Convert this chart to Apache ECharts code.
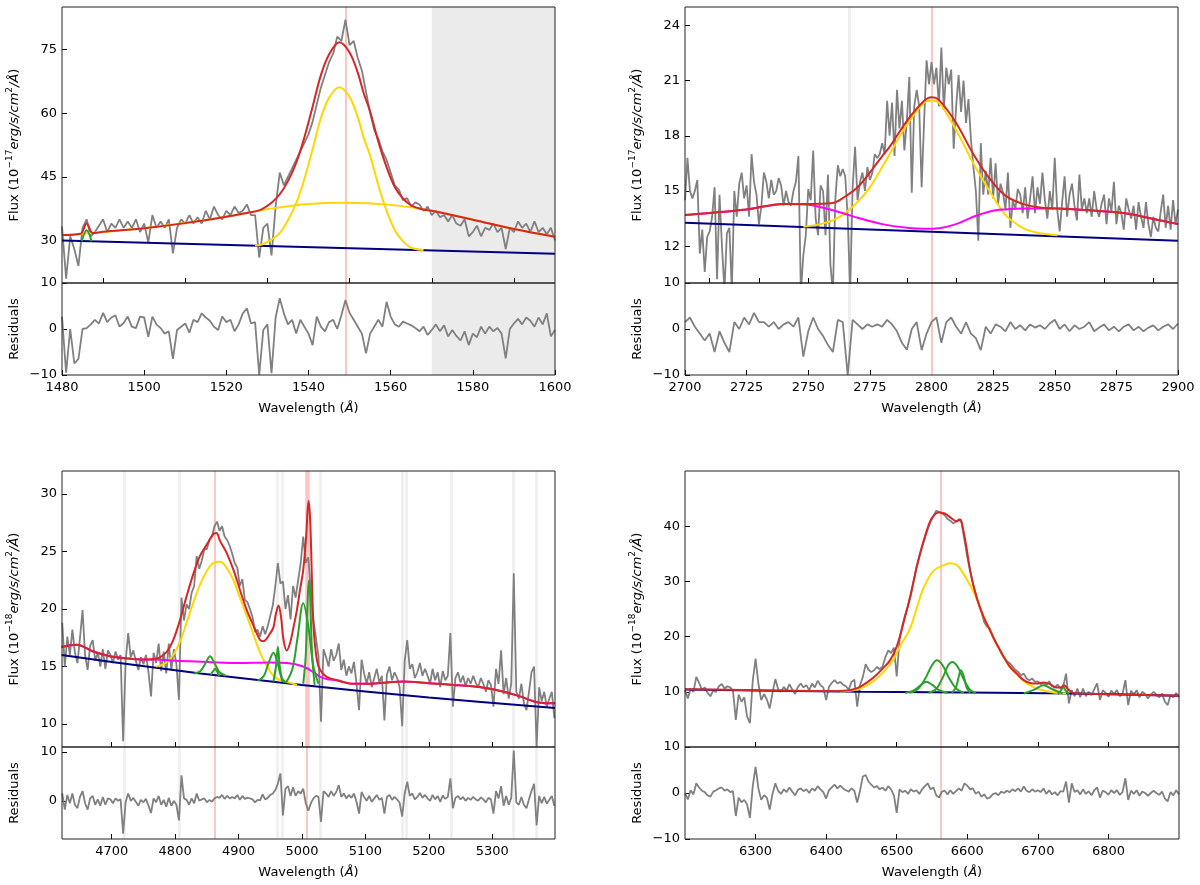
<!DOCTYPE html>
<html>
<head>
<meta charset="utf-8">
<script src="https://cdn.jsdelivr.net/npm/echarts@6/dist/echarts.min.js"></script>
<style>
html,body{margin:0;padding:0;background:#fff;}
#chart{width:1200px;height:885px;}
</style>
</head>
<body>
<div id="chart"></div>
<script>
// ---------------- Panel 1 : C IV (1480-1600 A), 1 A sampling ----------------
const p1Start = 1480, p1Step = 1;
const p1Flux = [
33.3,21,31,28,24,33,35,31,32,33.5,
35,32,34,33,35,33,34.5,33,35,32,
34,29.5,36,33,34.5,33,35,27,33,35,
34,36,34,35.5,34,37,35,38,36,35,
37,36,38,36.5,37,38.5,36,36,26,33,
34,26.5,38,46,43,45,47,49,51,53,
55,58,62,66,69,72,74,78,77,82,
76,77,73,70,65,60,56,54,51,49,
46,43,42,39.5,40,38,39,38.5,37,38,
36,37,35.5,36,34.5,36,34,33.5,35,31,
32,33.5,31,33,32.5,34,32,33,28,33,
32,34.5,33,34,32,34.5,32,33,31.5,33,
30];
const p1Resid = [
2.7,-9.5,0,-7.5,-6.5,0,0.2,1,2,1.2,
3.5,1.5,2.5,3,0.5,1.3,2.7,0.5,0.2,2.7,
2.5,-1.7,2.7,1,0.2,-1,-0.5,-6.5,-0.2,0.5,
1.2,-0.8,2,1.5,3.4,2.5,1.8,0.5,-0.2,2.7,
1.5,2,-0.5,1,3.4,4.5,1.2,1.5,-10,-0.2,
1,-9.6,2.5,6.7,3.4,1,2,-1,2,0.5,
-1,-3.5,2.7,0.5,-0.5,1.5,2,0,3,6.3,
3.5,2,0.5,-1,-5.3,-1,0.5,2,0.5,5.9,
2.7,1,0.5,1.6,1.2,0.8,0.2,-0.5,0.5,-1.3,
-0.2,1,-0.5,0.8,-1.6,-0.2,-1.5,-2.5,-0.5,-3.5,
-1,-1.8,0.5,-1,0.5,-0.5,0.2,-1,-6.4,0,
1.2,2.2,1,2.5,1.8,0.5,2.5,1,3.4,-1.6,
-0.2];
const p1Cont = [[1480,30.0],[1600,26.9]];
const p1BroadCIV = [[1480,31.3],[1500,32.9],[1520,35.6],[1530,37.4],[1540,38.6],[1549,38.9],[1560,38.4],[1570,37.0],[1580,34.9],[1590,32.7],[1600,30.9]];
const p1NarrowCIV = [[1527,28.8],[1529,29.2],[1531,30.2],[1533,31.8],[1535,34.8],[1537,38.8],[1539,44.5],[1541,51.5],[1543,58.8],[1545,63.6],[1547.5,66.1],[1550,63.8],[1552,59.0],[1553.5,54.0],[1555,50.0],[1557,43.0],[1559,37.0],[1561,32.5],[1563,29.8],[1565,28.3],[1568,27.75]];
const p1Green = [[1484.8,29.85],[1486,32.4],[1487.2,29.8]];
const p1Model = [[1480,31.3],[1484.5,31.6],[1486,34.0],[1487.5,31.75],[1490,32.05],[1500,32.9],[1510,34.1],[1520,35.6],[1525,36.5],[1528,37.1],[1531,38.9],[1533,40.9],[1535,44.0],[1537,48.3],[1539,54.3],[1541,61.5],[1543,68.9],[1545,73.8],[1547.5,76.7],[1550,74.3],[1552,69.5],[1553.5,64.5],[1555,60.4],[1557,53.3],[1559,47.3],[1561,42.6],[1563,39.9],[1565,38.3],[1568,37.3],[1570,37.0],[1580,34.9],[1590,32.7],[1600,30.9]];
const p1Lines = [1549];
const p1MaskArea = [[1570,1600]];

// ---------------- Panel 2 : Mg II (2700-2900 A) ----------------
const p2Start = 2700, p2Step = 1;
const p2Flux = [
14.5,16.8,15.0,14.6,15.0,15.6,11.6,12.9,10.6,12.5,
12.8,13.6,15.2,10.2,14.8,12.0,9.6,12.7,13.0,9.6,
15.0,13.6,15.4,16.0,14.6,15.3,13.6,17.0,15.5,14.8,
13.2,14.2,16.0,15.5,14.6,15.6,14.8,15.0,15.7,15.3,
14.2,15.0,14.4,14.2,15.0,15.5,16.9,9.5,11.5,12.6,
15.1,14.5,17.2,13.5,12.6,15.3,15.0,12.6,15.9,11.0,
9.5,14.6,16.4,15.8,16.2,15.8,13.6,9.5,15.2,17.4,
14.5,15.5,16.0,15.0,16.3,15.6,16.0,17.0,16.8,17.0,
17.6,17.0,19.9,18.0,19.8,16.9,20.5,18.4,19.9,17.2,
18.8,21.2,14.9,19.6,20.5,19.6,15.2,18.8,22.1,20.8,
22.0,20.8,21.7,19.6,22.8,19.4,21.7,20.8,21.6,17.3,
19.6,21.3,19.3,21.0,18.7,20.0,17.8,16.3,15.0,12.3,
17.6,14.8,16.1,14.8,16.8,14.6,16.5,14.3,15.4,14.9,
14.0,16.0,13.0,14.5,14.0,15.1,14.8,13.8,15.2,13.5,
14.6,15.8,13.8,15.2,14.3,16.0,14.5,13.5,15.0,14.0,
16.8,14.0,12.8,14.4,15.8,13.6,14.8,15.4,14.2,13.4,
15.9,14.0,14.6,13.8,14.6,13.6,15.0,14.0,13.6,14.3,
14.8,13.2,14.6,13.9,15.5,13.2,14.2,13.8,12.9,14.6,
14.0,13.5,14.2,12.9,14.4,13.6,13.0,14.4,13.2,12.5,
13.6,13.0,12.8,13.9,14.8,13.0,14.2,12.9,14.5,13.2,
14.0];
const p2ResStart = 2700, p2ResStep = 2;
const p2Resid = [
1.5,2.5,0.5,-1,-2.5,-1,-5,-0.5,-3,-5,
1.5,0,2.5,1,3.5,1.5,1.5,0.5,1.5,0,
1,1.5,0.5,2.5,-6,-0.5,2.5,0,-1.5,-3.5,
-5,2,1.5,-10,2,1,0,1,0.5,1,
0.5,2,1,-0.5,-3,-4.5,0,1.5,-4.6,-1,
1.5,2.5,-3,1.5,2.5,0.5,-1,1.5,-1,-2,
-4.6,0.5,-1,1,0.5,-0.5,1.5,0,0.8,-0.3,
1,0.3,0.8,0,1.2,2,0,1,-0.5,0.8,
0,0.5,1.5,-0.5,0.3,1,-0.3,0.5,-0.5,0.5,
1,-0.3,0.5,-0.5,0.3,0.8,-0.3,0.5,1,0,
1.2];
const p2Cont = [[2700,13.27],[2900,12.3]];
const p2Broad = [[2748,13.05],[2755,13.2],[2760,13.4],[2765,13.8],[2770,14.4],[2775,15.2],[2780,16.3],[2783,17.0],[2790,18.6],[2797,19.8],[2800,19.9],[2803,19.8],[2810,18.3],[2817,16.5],[2824,14.9],[2830,13.7],[2837,13.0],[2844,12.7],[2851,12.6]];
const p2FeII = [[2700,13.7],[2725,14.0],[2740,14.3],[2750,14.25],[2760,13.95],[2770,13.55],[2780,13.2],[2790,13.0],[2797,12.95],[2803,12.98],[2810,13.2],[2817,13.6],[2824,13.9],[2830,14.0],[2837,14.05],[2851,14.05],[2864,13.95],[2878,13.8],[2891,13.45],[2900,13.2]];
const p2Model = [[2700,13.7],[2725,14.0],[2740,14.3],[2750,14.3],[2760,14.35],[2765,14.7],[2770,15.2],[2775,16.0],[2780,16.9],[2783,17.4],[2790,18.8],[2797,19.9],[2800,20.1],[2803,19.95],[2810,18.7],[2817,17.0],[2824,15.6],[2830,14.75],[2837,14.3],[2844,14.1],[2851,14.05],[2864,13.95],[2878,13.8],[2891,13.45],[2900,13.2]];
const p2Lines = [2800];
const p2Masks = [2766.7];

// ---------------- Panel 3 : H-beta / [O III] (4621-5399 A) ----------------
const p3Start = 4622, p3Step = 4;
const p3Flux = [
18.8,15.0,17.6,16.0,18.2,16.2,15.3,17.5,19.9,16.0,
14.7,16.8,17.3,15.5,16.2,15.0,16.5,14.8,16.4,16.0,
15.3,16.3,15.6,16.0,8.5,15.5,17.9,15.8,16.4,15.5,
14.7,15.8,15.2,16.0,14.5,12.4,16.2,15.3,17.0,14.6,
16.3,14.4,17.0,14.7,16.5,15.2,12.1,21.0,19.0,20.4,
20.0,21.4,22.0,24.6,23.5,24.2,25.2,25.2,26.0,26.3,
27.2,27.6,26.8,27.2,26.3,26.0,25.5,24.8,24.0,23.6,
22.0,22.6,20.8,20.6,20.0,19.3,18.0,18.2,17.6,18.5,
17.8,18.5,19.4,20.3,22.0,24.0,22.2,22.4,20.0,21.2,
19.1,22.0,21.0,22.5,24.0,26.3,24.0,24.5,21.5,19.0,
17.5,15.9,10.2,16.5,15.8,15.0,16.5,15.5,16.0,17.0,
14.7,15.6,14.2,15.0,14.4,15.4,13.5,11.2,15.6,14.4,
13.5,14.5,13.2,14.0,14.8,13.6,14.2,10.3,14.3,15.0,
13.8,14.5,14.0,13.2,9.8,15.5,17.3,14.8,15.2,14.0,
14.5,15.3,14.2,14.8,14.2,13.5,14.8,13.8,14.5,13.2,
14.6,13.8,14.2,17.9,11.5,14.0,14.5,13.6,14.2,13.3,
14.0,13.5,14.2,13.6,13.2,14.0,13.5,12.8,13.8,13.4,
11.5,14.8,13.5,16.4,12.6,14.0,12.2,13.5,23.1,12.8,
12.2,13.5,11.8,11.2,12.8,14.5,15.0,8.0,13.2,12.0,
12.8,11.5,12.2,12.8,10.5];
const p3Resid = [
1.5,-1.8,1.2,-0.5,1.5,-0.8,-1.5,0.8,2.0,-0.5,
-1.8,0.5,1.0,-0.8,0.3,-1.0,0.8,-0.8,0.5,0.3,
-0.5,0.5,0,0.3,-6.7,-0.2,1.5,0,0.6,-0.2,
-1.0,0.2,-0.3,0.4,-1.0,-2.5,0.5,-0.3,1.0,-0.8,
0.2,-1.2,0.6,-1.0,0,-0.8,-4.0,5.2,0.5,0.2,
-0.8,0.5,-0.5,1.5,0,0.3,0.5,-0.3,0.2,-0.2,
0.5,0.8,0.6,1.2,0.4,1.0,0.5,0.8,0.5,1.2,
0.2,1.0,0.4,0.6,0.5,0.3,-0.3,0.2,0.1,1.3,
0.3,0.6,1.2,1.5,2.2,3.5,5.6,-3.0,2.5,3.0,
1.0,2.8,1.0,2.0,1.5,2.5,-0.5,-2.0,-0.5,0.5,
1.0,0.8,-4.3,2.0,1.5,0.8,2.0,1.0,1.8,3.2,
0.8,1.5,0.5,1.2,0.6,1.5,-0.2,-2.6,1.8,0.8,
0,1.0,-0.2,0.5,1.2,0.2,0.6,-2.6,0.8,1.2,
0.2,0.8,0.3,-0.4,-3.2,1.5,3.9,1.0,1.5,0.3,
0.8,1.6,0.6,1.2,0.5,0,1.2,0.3,1.0,-0.2,
1.1,0.4,0.8,4.6,-1.5,0.6,1.0,0.3,0.8,0,
0.6,0.2,0.8,0.3,0,0.7,0.3,-0.3,0.6,0.3,
-2.6,2.0,0.5,3.0,-1.0,1.0,-0.8,0.6,10.3,-0.3,
-0.8,0.8,-0.8,-1.5,0.3,2.0,3.5,-5.0,1.0,-0.5,
0.8,-0.6,0.2,1.0,-1.0];
const p3Cont = [[4621,16.0],[4700,15.4],[4840,14.4],[5000,13.4],[5200,12.3],[5399,11.4]];
const p3BroadHb = [[4770,15.0],[4785,15.3],[4797,16.0],[4808,17.2],[4818,18.8],[4829,20.6],[4839,22.1],[4850,23.3],[4860,24.0],[4871,24.1],[4881,23.6],[4892,22.5],[4902,21.0],[4913,19.4],[4924,17.7],[4934,16.2],[4945,15.0],[4955,14.2],[4966,13.8],[4980,13.6],[4992,13.4]];
const p3FeII = [[4621,16.7],[4645,16.9],[4671,16.3],[4697,15.9],[4724,15.7],[4750,15.6],[4771,15.6],[4800,15.5],[4850,15.4],[4900,15.3],[4950,15.35],[4976,15.3],[5002,15.0],[5018,14.5],[5029,14.1],[5040,13.9],[5055,13.8],[5081,13.5],[5108,13.5],[5134,13.6],[5160,13.7],[5187,13.6],[5213,13.5],[5239,13.4],[5265,13.3],[5292,13.1],[5318,12.8],[5344,12.4],[5371,11.9],[5399,11.8]];
const p3HbWide = [[4830,14.4],[4840,14.6],[4848,15.3],[4855,15.9],[4862,15.3],[4870,14.5],[4880,14.2]];
const p3HbNarrow = [[4856,14.3],[4860,14.6],[4863,14.8],[4866,14.6],[4870,14.2]];
const p3O4959Wide = [[4930,13.75],[4940,14.2],[4948,15.4],[4955,16.2],[4962,15.2],[4968,14.0],[4975,13.6]];
const p3O4959Narrow = [[4955,13.7],[4959,15.0],[4962,16.7],[4965,15.0],[4969,13.65]];
const p3O5007Wide = [[4975,13.6],[4985,14.8],[4993,17.5],[5002,20.5],[5010,18.5],[5018,15.0],[5026,13.5]];
const p3O5007Narrow = [[5002,13.5],[5006,16.0],[5009.5,21.5],[5011.3,22.5],[5013,21.0],[5016,16.0],[5020,13.4]];
const p3Model = [[4621,16.7],[4645,16.9],[4671,16.3],[4697,15.9],[4724,15.7],[4750,15.6],[4771,15.7],[4787,16.3],[4797,17.3],[4808,19.1],[4818,21.1],[4829,23.1],[4839,24.6],[4850,25.6],[4860,26.5],[4865,26.6],[4871,25.9],[4881,24.9],[4892,23.4],[4902,21.7],[4913,19.9],[4924,18.5],[4934,17.3],[4939,17.2],[4950,17.9],[4955,18.4],[4959,19.6],[4963,20.3],[4967,19.3],[4971,17.3],[4976,16.4],[4981,17.0],[4987,18.5],[4992,19.9],[4997,21.7],[5002,23.4],[5006.6,26.3],[5010.3,29.4],[5012.9,27.8],[5015.6,22.8],[5018.2,18.5],[5023.4,15.6],[5028.7,14.7],[5039,14.1],[5055,13.8],[5081,13.5],[5108,13.5],[5134,13.6],[5160,13.7],[5187,13.6],[5213,13.5],[5239,13.4],[5265,13.3],[5292,13.1],[5318,12.8],[5344,12.4],[5371,11.9],[5399,11.8]];
const p3Lines = [4862];
const p3LinesWide = [5008.5];
const p3ResLines = [4862, 5007];
const p3Masks = [4720, 4806, 4961, 4969, 5029, 5158, 5165, 5235, 5333, 5370];

// ---------------- Panel 4 : H-alpha (6200-6900 A) ----------------
const p4Start = 6200, p4Step = 4;
const p4Flux = [
10.3,8.8,10.5,10.0,12.7,11.6,10.4,10.8,9.8,9.2,
10.2,10.0,11.0,11.4,10.6,11.0,10.8,10.2,4.9,9.5,
8.2,9.0,5.5,4.3,12.0,16.0,11.5,8.5,9.6,8.6,
7.0,9.8,12.3,10.5,10.0,10.9,10.2,11.4,10.4,9.6,
10.9,11.5,10.8,11.2,10.3,11.5,10.8,12.0,11.2,10.8,
8.5,10.9,11.6,12.1,11.5,11.8,11.3,11.0,10.4,11.8,
12.2,7.3,11.2,12.7,15.0,14.0,13.6,13.9,14.5,14.1,
14.6,16.3,17.5,17.0,18.0,12.8,19.4,22.0,24.0,25.5,
27.5,30.0,32.6,34.6,36.3,37.8,39.5,40.8,41.8,42.8,
42.6,42.3,42.0,41.3,41.0,40.5,40.8,41.3,40.6,37.5,
34.5,32.0,29.5,27.8,26.0,24.5,22.6,21.8,21.5,20.0,
19.0,18.2,17.0,16.1,15.6,15.2,14.6,14.0,13.6,13.0,
13.3,12.4,12.1,12.4,11.8,11.9,11.4,11.6,11.2,11.9,
11.0,10.8,11.3,10.6,11.0,13.3,7.9,10.3,9.2,10.6,
9.0,10.6,9.2,10.0,9.4,10.5,11.5,8.5,10.3,9.8,
9.1,10.2,9.6,10.3,9.2,9.6,12.1,7.6,10.2,9.5,
10.3,9.0,10.0,9.6,8.8,9.5,10.0,9.5,9.0,9.7,
8.2,7.6,9.4,9.0,9.8,9.0];
const p4Resid = [
0,-1.4,0.6,-0.3,2.1,1.2,0.5,0.2,-0.5,-0.8,
0.3,0.6,1.0,1.2,0.5,0.8,0.2,0.4,-5.0,-1.0,
-2.0,-1.5,-2.5,-5.4,1.5,5.7,1.0,-1.5,-0.5,-1.0,
-3.6,-0.2,2.1,0.5,-0.2,0.8,0.2,1.2,0.3,-0.5,
0.7,1.0,0.4,0.8,0,1.0,0.5,1.5,0.8,0.2,
-1.2,0.6,1.2,1.8,1.0,1.6,1.0,0.6,0.3,1.0,
0.5,-2.1,0.5,3.6,3.9,2.5,1.8,1.2,1.5,0.8,
1.2,0.5,1.5,0.8,-0.5,-4.3,0.8,0.2,0.5,-0.2,
0.8,0.3,0.6,-0.2,0.8,1.5,2.1,0.8,1.2,-0.5,
-1.0,0.3,0.5,-0.3,0.6,-0.2,0.4,1.0,0.5,2.1,
1.6,0.8,1.0,-0.2,0.3,-0.8,-0.3,-1.2,-1.0,-0.3,
0,-0.5,0.3,0,0.5,0.2,0.8,0.4,1.0,0.3,
1.4,0.5,0.2,0.8,0.3,0.6,0.2,1.0,-0.2,0.6,
-0.3,0.2,-0.5,0.4,0.3,2.5,-2.1,2.1,0.2,0.6,
-0.3,0.8,-0.2,0.4,-0.5,0.6,1.2,-1.0,0.5,0.2,
-0.4,0.6,0,0.6,-0.4,0.2,3.2,-1.5,0.5,-0.2,
0.6,-0.6,0.3,0,-0.6,0,0.5,0,-0.4,0.3,
-1.2,-1.8,0.2,-0.5,0.6,-0.3];
const p4Cont = [[6200,10.4],[6450,10.0],[6750,9.7],[6900,9.3]];
const p4BroadHa = [[6420,10.05],[6440,10.3],[6460,11.3],[6480,13.4],[6495,15.8],[6505,18.3],[6519,21.5],[6528,25.0],[6538,28.8],[6552,31.9],[6566,32.9],[6575,33.3],[6585,33.0],[6594,31.5],[6604,29.3],[6613,27.0],[6623,23.6],[6632,21.2],[6641,18.8],[6651,16.5],[6660,14.5],[6670,13.2],[6679,12.0],[6689,11.2],[6698,10.6],[6708,10.25],[6717,10.0],[6727,9.8],[6740,9.7]];
const p4G1 = [[6512,9.8],[6525,10.3],[6535,11.3],[6542,11.8],[6550,11.3],[6560,10.3],[6572,9.8]];
const p4G2 = [[6518,9.8],[6530,10.5],[6540,12.3],[6550,14.8],[6557,15.7],[6565,14.8],[6575,12.3],[6585,10.5],[6595,9.8]];
const p4G3 = [[6545,9.8],[6556,10.5],[6566,12.8],[6573,14.8],[6579,15.4],[6586,14.6],[6594,12.5],[6603,10.5],[6612,9.8]];
const p4G4 = [[6578,9.8],[6584,10.8],[6588,12.8],[6591,13.9],[6595,12.8],[6599,10.8],[6604,9.8]];
const p4G5 = [[6680,9.7],[6695,10.4],[6708,11.2],[6720,10.5],[6735,9.7]];
const p4G6 = [[6728,9.6],[6733,10.3],[6736,10.9],[6739,10.3],[6744,9.6]];
const p4Model = [[6200,10.45],[6300,10.3],[6400,10.15],[6430,10.25],[6445,10.7],[6460,11.9],[6470,12.9],[6480,14.2],[6490,15.6],[6500,18.2],[6509,22.2],[6519,27.2],[6528,32.4],[6538,37.3],[6547,40.8],[6553,42.0],[6559,42.5],[6568,42.3],[6578,41.4],[6585,40.9],[6590,41.2],[6594,39.5],[6599,36.0],[6604,32.0],[6613,27.2],[6623,23.6],[6632,21.2],[6641,18.8],[6651,16.5],[6660,14.6],[6670,13.3],[6679,12.2],[6689,11.6],[6698,11.5],[6708,11.7],[6717,11.4],[6726,10.8],[6733,10.8],[6737,11.2],[6742,10.6],[6750,9.8],[6775,9.65],[6821,9.5],[6900,9.3]];
const p4Lines = [6563];

// ---------------- tick labels ----------------
const p1MainXTicks = [1490,1510,1530,1550,1570,1590];
const p1XTicks = [1480,1500,1520,1540,1560,1580,1600];
const p1YTicks = [30,45,60,75];
const p2MainXTicks = [2710,2730,2750,2770,2790,2810,2830,2850,2870,2890];
const p2XTicks = [2700,2725,2750,2775,2800,2825,2850,2875,2900];
const p2YTicks = [12,15,18,21,24];
const p3XTicks = [4700,4800,4900,5000,5100,5200,5300];
const p3YTicks = [10,15,20,25,30];
const p4XTicks = [6300,6400,6500,6600,6700,6800];
const p4YTicks = [10,20,30,40];
const resTicksFull = [-10,0,10];
const resTicksP3 = [0,10];

// ---------------- build chart ----------------
const FONT = 'DejaVu Sans';
const C = {spec:'#808080', red:'#d62728', gold:'#ffd700', mag:'#ff00ff', green:'#2ca02c', navy:'#000080', pink:'#ffc4c4', mask:'#eeeeee'};
const sampled = (start, step, vals) => vals.map((v, i) => [Math.round((start + i * step) * 100) / 100, v]);
const fmt = v => (v < 0 ? '\u2212' + Math.abs(v) : String(v));
const rich = {
  n: {fontSize: 13, fontFamily: FONT, color: '#000', lineHeight: 20},
  i: {fontSize: 13, fontFamily: FONT, color: '#000', fontStyle: 'italic', lineHeight: 20},
  s: {fontSize: 9, fontFamily: FONT, color: '#000', lineHeight: 12, verticalAlign: 'top'}
};

const grids = [], xAxes = [], yAxes = [], series = [];
const MAIN_H = 276, RES_H = 92;

function addAxisPair(gi, left, top, width, height, xr, yr, xTicks, yTicks, xShowLabel, xName, yName, yNameGap) {
  grids.push({left: left, top: top, width: width, height: height, show: true, borderColor: '#222', borderWidth: 1, containLabel: false, z: 5});
  xAxes.push({
    type: 'value', gridIndex: gi, min: xr[0], max: xr[1], position: 'bottom',
    axisLine: {show: false, onZero: false}, splitLine: {show: false},
    axisTick: {show: true, inside: true, length: 5, customValues: xTicks, lineStyle: {color: '#000', width: 1}},
    axisLabel: {show: xShowLabel, customValues: xTicks, margin: 6, color: '#000', fontSize: 13, fontFamily: FONT, formatter: fmt},
    name: xName, nameLocation: 'middle', nameGap: 24,
    nameTextStyle: {rich: rich}
  });
  yAxes.push({
    type: 'value', gridIndex: gi, min: yr[0], max: yr[1], position: 'left',
    axisLine: {show: false, onZero: false}, splitLine: {show: false},
    axisTick: {show: true, inside: true, length: 5, customValues: yTicks, lineStyle: {color: '#000', width: 1}},
    axisLabel: {show: true, customValues: yTicks, margin: 5, color: '#000', fontSize: 13, fontFamily: FONT, formatter: fmt},
    name: yName, nameLocation: 'middle', nameGap: yNameGap, nameRotate: 90,
    nameTextStyle: {rich: rich, fontSize: 13, fontFamily: FONT, color: '#000'}
  });
}

function line(idx, data, color, width, z, smooth) {
  series.push({type: 'line', xAxisIndex: idx, yAxisIndex: idx, data: data, showSymbol: false, symbol: 'none',
    smooth: smooth ? 0.35 : false, z: z, silent: true, animation: false,
    lineStyle: {color: color, width: width}});
}

function vlines(idx, xs, color, width) {
  series.push({type: 'line', xAxisIndex: idx, yAxisIndex: idx, data: [], symbol: 'none', z: 1, silent: true, animation: false,
    markLine: {z: 1, symbol: ['none', 'none'], silent: true, animation: false, label: {show: false},
      lineStyle: {color: color, width: width, type: 'solid', opacity: 1},
      emphasis: {disabled: true},
      data: xs.map(x => ({xAxis: x}))}});
}

function varea(idx, ranges, color) {
  series.push({type: 'line', xAxisIndex: idx, yAxisIndex: idx, data: [], symbol: 'none', z: 0, silent: true, animation: false,
    markArea: {z: 0, silent: true, animation: false, itemStyle: {color: color}, emphasis: {disabled: true},
      data: ranges.map(r => [{xAxis: r[0]}, {xAxis: r[1]}])}});
}

const flux17 = '{n|Flux (10}{s|\u221217}{i|erg/s/cm}{s|2}{i|/\u00c5}{n|)}';
const flux18 = '{n|Flux (10}{s|\u221218}{i|erg/s/cm}{s|2}{i|/\u00c5}{n|)}';
const wl = '{n|Wavelength (}{i|\u00c5}{n|)}';
const resName = '{n|Residuals}';

// Panel 1
addAxisPair(0, 62, 7, 493, MAIN_H, [1480, 1600], [20, 85], p1MainXTicks, p1YTicks, false, '', flux17, 37);
addAxisPair(1, 62, 7 + MAIN_H, 493, RES_H, [1480, 1600], [-10, 10], p1XTicks, resTicksFull, true, wl, resName, 37);
// Panel 2
addAxisPair(2, 685, 7, 493, MAIN_H, [2700, 2900], [10, 25], p2MainXTicks, p2YTicks, false, '', flux17, 37);
addAxisPair(3, 685, 7 + MAIN_H, 493, RES_H, [2700, 2900], [-10, 10], p2XTicks, resTicksFull, true, wl, resName, 37);
// Panel 3
addAxisPair(4, 62, 471, 493, MAIN_H, [4621.6, 5399], [8, 32], p3XTicks, p3YTicks, false, '', flux18, 37);
addAxisPair(5, 62, 471 + MAIN_H, 493, RES_H, [4621.6, 5399], [-7.8, 11], p3XTicks, resTicksP3, true, wl, resName, 37);
// Panel 4
addAxisPair(6, 685, 471, 494, MAIN_H, [6200, 6900], [0, 50], p4XTicks, p4YTicks, false, '', flux18, 37);
addAxisPair(7, 685, 471 + MAIN_H, 494, RES_H, [6200, 6900], [-10, 10], p4XTicks, resTicksFull, true, wl, resName, 37);

// Panel 1 series
varea(0, p1MaskArea, '#ebebeb'); varea(1, p1MaskArea, '#ebebeb');
vlines(0, p1Lines, C.pink, 2); vlines(1, p1Lines, C.pink, 2);
line(0, sampled(p1Start, p1Step, p1Flux), C.spec, 1.8, 2, false);
line(0, p1Cont, C.navy, 2, 3, false);
line(0, p1BroadCIV, C.gold, 2, 3, true);
line(0, p1NarrowCIV, C.gold, 2, 3, true);
line(0, p1Green, C.green, 2, 3, true);
line(0, p1Model, C.red, 2, 4, true);
line(1, sampled(p1Start, p1Step, p1Resid), C.spec, 1.8, 2, false);

// Panel 2 series
vlines(2, p2Masks, C.mask, 3); vlines(3, p2Masks, C.mask, 3);
vlines(2, p2Lines, C.pink, 2); vlines(3, p2Lines, C.pink, 2);
line(2, sampled(p2Start, p2Step, p2Flux), C.spec, 1.8, 2, false);
line(2, p2Cont, C.navy, 2, 3, false);
line(2, p2Broad, C.gold, 2, 3, true);
line(2, p2FeII, C.mag, 2, 3, true);
line(2, p2Model, C.red, 2, 4, true);
line(3, sampled(p2ResStart, p2ResStep, p2Resid), C.spec, 1.8, 2, false);

// Panel 3 series
vlines(4, p3Masks, C.mask, 2.5); vlines(5, p3Masks, C.mask, 2.5);
vlines(4, p3Lines, C.pink, 2); vlines(4, p3LinesWide, C.pink, 4.5);
vlines(5, p3ResLines, C.pink, 2);
line(4, sampled(p3Start, p3Step, p3Flux), C.spec, 1.8, 2, false);
line(4, p3Cont, C.navy, 2, 3, true);
line(4, p3BroadHb, C.gold, 2, 3, true);
line(4, p3FeII, C.mag, 2, 3, true);
[p3HbWide, p3HbNarrow, p3O4959Wide, p3O4959Narrow, p3O5007Wide, p3O5007Narrow].forEach(g => line(4, g, C.green, 2, 3, true));
line(4, p3Model, C.red, 2, 4, true);
line(5, sampled(p3Start, p3Step, p3Resid), C.spec, 1.8, 2, false);

// Panel 4 series
vlines(6, p4Lines, C.pink, 2); vlines(7, p4Lines, C.pink, 2);
line(6, sampled(p4Start, p4Step, p4Flux), C.spec, 1.8, 2, false);
line(6, p4Cont, C.navy, 2, 3, true);
line(6, p4BroadHa, C.gold, 2, 3, true);
[p4G1, p4G2, p4G3, p4G4, p4G5, p4G6].forEach(g => line(6, g, C.green, 2, 3, true));
line(6, p4Model, C.red, 2, 4, true);
line(7, sampled(p4Start, p4Step, p4Resid), C.spec, 1.8, 2, false);

const chart = echarts.init(document.getElementById('chart'), null, {renderer: 'canvas'});
chart.setOption({
  backgroundColor: '#ffffff',
  animation: false,
  textStyle: {fontFamily: FONT},
  grid: grids, xAxis: xAxes, yAxis: yAxes, series: series
});
</script>
</body>
</html>
